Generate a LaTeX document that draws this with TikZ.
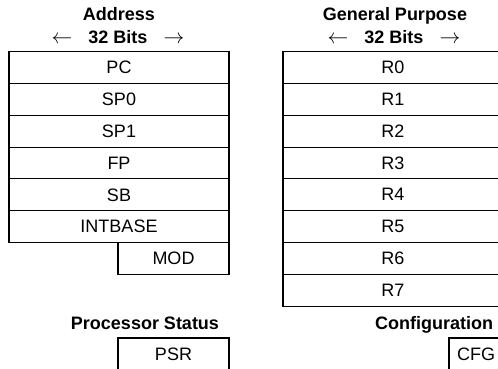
\documentclass[tikz,border=0pt]{standalone}
\usepackage{fontspec}
\setmainfont{Liberation Sans}
\usetikzlibrary{positioning}
\tikzset{register/.style = {draw, rectangle, line width=1.1pt, inner sep=0pt,
    outer sep=0pt, minimum width=220pt, minimum height=31.8pt,
    font=\fontsize{18}{21}\selectfont}}
\tikzset{heading/.style = {inner sep=0pt, anchor=base,
    font=\fontsize{18}{21}\selectfont\bfseries}}
\newcommand{\bitarrows}{{\fontsize{21}{24}\selectfont$\leftarrow$}\hspace{0.9em}32 Bits\hspace{0.9em}{\fontsize{21}{24}\selectfont$\rightarrow$}}

\begin{document}
\begin{tikzpicture}[x=1pt, y=-1pt, node distance=0pt]
      \clip (0,0) rectangle (498,368);

      \node[heading] (addressTitle) at (119,20.3) {Address};
      \node[heading] (addressBits) at (118,43.3) {\bitarrows};

      \node[register] (pc) at (119,67.6) {PC};
      \node[register, below = of pc] (sp0) {SP0};
      \node[register, below = of sp0] (sp1) {SP1};
      \node[register, below = of sp1] (fp) {FP};
      \node[register, below = of fp] (sb) {SB};
      \node[register, below = of sb] (intbase) {INTBASE};
      \node[register, minimum width=111pt, anchor=north east]
        (mod) at (intbase.south east) {MOD};


      \node[heading] (statusTitle) at (145,329.3) {Processor Status};
      \node[register, minimum width=111pt, anchor=north east]
        (psr) at (mod.south east |- 0,338) {PSR};


      \node[heading] (generalTitle) at (395,20.3) {General Purpose};
      \node[heading] (generalBits) at (394,43.3) {\bitarrows};

      \node[register] (r0) at (393,67.6) {R0};
      \foreach \i [count=\j from 0] in {1,...,7}
        \node[register, below = of r\j] (r\i) {R\i};


      \node[heading, anchor=base west] (configTitle) at (375,329.3) {Configuration};
      \node[register, minimum width=54pt, anchor=north east]
        (cfg) at (r7.south east |- 0,338) {CFG};
\end{tikzpicture}
\end{document}
